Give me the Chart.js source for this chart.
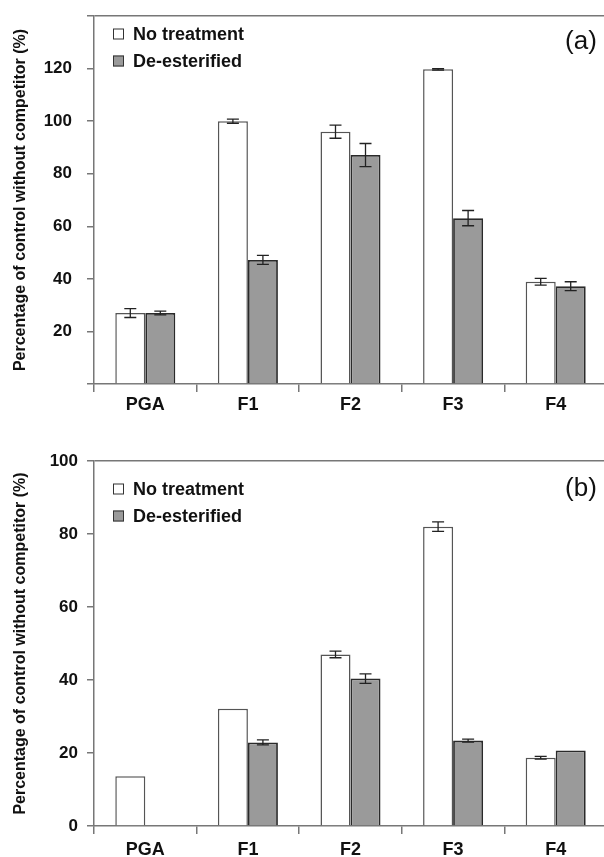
<!DOCTYPE html>
<html>
<head>
<meta charset="utf-8">
<script src="https://cdn.jsdelivr.net/npm/chart.js@4.4.1/dist/chart.umd.min.js"></script>
<style>
  html, body { margin: 0; padding: 0; background: #fff; overflow: hidden; }
  body { width: 604px; height: 857px; position: relative; }
  .panel { position: absolute; left: 0; width: 607px; }
  #panelA { top: 0; height: 420px; }
  #panelB { top: 440px; height: 417px; }
</style>
</head>
<body>
<div class="panel" id="panelA"><canvas id="chartA"></canvas></div>
<div class="panel" id="panelB"><canvas id="chartB"></canvas></div>
<script>
// ---------- values ----------
let categories = ['PGA', 'F1', 'F2', 'F3', 'F4']
let seriesNames = ['No treatment', 'De-esterified']
let yTitle = 'Percentage of control without competitor (%)'

// panel (a)
let a_noTreatment = [27.0, 100.0, 96.0, 119.7, 38.9]
let a_noTreatmentErr = [1.7, 0.8, 2.5, 0.3, 1.3]
let a_deEsterified = [27.0, 47.2, 87.1, 63.1, 37.2]
let a_deEsterifiedErr = [0.7, 1.7, 4.4, 2.9, 1.7]
let a_yLabels = [20, 40, 60, 80, 100, 120]   // axis runs 0..140

// panel (b)
let b_noTreatment = [13.6, 32.1, 47.0, 82.0, 18.7]
let b_noTreatmentErr = [0, 0, 0.9, 1.3, 0.4]
let b_deEsterified = [null, 22.9, 40.4, 23.4, 20.7]
let b_deEsterifiedErr = [0, 0.7, 1.3, 0.4, 0]
let b_yLabels = [0, 20, 40, 60, 80, 100]     // axis runs 0..100

const FONT = "'Liberation Sans', Arial, Helvetica, sans-serif"
const INK = '#111'
const AXIS = '#777'

// ---------- plugins ----------

// error bars, drawn from each dataset's "errors" array through the y scale
const errorBars = {
  id: 'errorBars',
  afterDatasetsDraw(chart) {
    const ctx = chart.ctx
    const y = chart.scales.y
    chart.data.datasets.forEach((ds, i) => {
      const meta = chart.getDatasetMeta(i)
      meta.data.forEach((bar, j) => {
        let v = ds.data[j], e = ds.errors[j]
        if (v == null || !e) return
        let top = y.getPixelForValue(v + e)
        let bot = y.getPixelForValue(v - e)
        ctx.save()
        ctx.strokeStyle = '#222'
        ctx.lineWidth = 1.3
        ctx.beginPath()
        ctx.moveTo(bar.x, top); ctx.lineTo(bar.x, bot)
        ctx.moveTo(bar.x - 6, top); ctx.lineTo(bar.x + 6, top)
        ctx.moveTo(bar.x - 6, bot); ctx.lineTo(bar.x + 6, bot)
        ctx.stroke()
        ctx.restore()
      })
    })
  }
}

// legend sitting inside the plot, top-left
const insideLegend = {
  id: 'insideLegend',
  afterDraw(chart, args, opts) {
    const ctx = chart.ctx
    ctx.save()
    chart.data.datasets.forEach((ds, i) => {
      let cy = opts.y + i * opts.step
      ctx.fillStyle = ds.backgroundColor
      ctx.fillRect(opts.x, cy - 5.5, 11, 11)
      ctx.strokeStyle = '#333'
      ctx.lineWidth = 1
      ctx.strokeRect(opts.x + 0.5, cy - 5, 10, 10)
      ctx.fillStyle = INK
      ctx.font = 'bold 18px ' + FONT
      ctx.textAlign = 'left'
      ctx.textBaseline = 'middle'
      ctx.fillText(ds.label, opts.x + 20, cy + 1)
    })
    ctx.restore()
  }
}

// panel tag, "(a)" / "(b)"
const panelTag = {
  id: 'panelTag',
  afterDraw(chart, args, opts) {
    const ctx = chart.ctx
    ctx.save()
    ctx.fillStyle = INK
    ctx.font = '26px ' + FONT
    ctx.textAlign = 'center'
    ctx.textBaseline = 'middle'
    ctx.fillText(opts.text, opts.x, opts.y)
    ctx.restore()
  }
}

// ---------- build one panel ----------
function makePanel(id, noT, noTErr, deE, deEErr, yMax, yLabels, lay) {
  return new Chart(document.getElementById(id), {
    type: 'bar',
    data: {
      labels: categories,
      datasets: [{
        label: seriesNames[0],
        data: noT,
        errors: noTErr,
        backgroundColor: '#ffffff',
        borderColor: '#555',
        borderWidth: 1.5
      }, {
        label: seriesNames[1],
        data: deE,
        errors: deEErr,
        backgroundColor: '#9a9a9a',
        borderColor: '#2a2a2a',
        borderWidth: 1.8
      }]
    },
    options: {
      responsive: true,
      maintainAspectRatio: false,
      animation: false,
      layout: { padding: { top: lay.top, left: 0, right: 0, bottom: 0 } },
      datasets: { bar: { categoryPercentage: 0.585, barPercentage: 1.0 } },
      scales: {
        x: {
          afterFit: s => { s.height = lay.xHeight; s.paddingLeft = 0; s.paddingRight = 0 },
          grid: { offset: true, drawOnChartArea: false, tickLength: 8, color: AXIS, lineWidth: 1.5 },
          border: { color: AXIS, width: 1.5 },
          ticks: { color: INK, padding: lay.xPad, font: { family: FONT, size: 18, weight: 'bold' } }
        },
        y: {
          min: 0,
          max: yMax,
          afterFit: s => { s.width = 94; s.paddingTop = 0; s.paddingBottom = 0 },
          grid: {
            drawOnChartArea: true,
            color: c => (c.tick && c.tick.value === yMax) ? AXIS : 'rgba(0,0,0,0)',
            tickColor: AXIS,
            tickLength: 7,
            lineWidth: 1.5
          },
          border: { color: AXIS, width: 1.5 },
          ticks: {
            stepSize: 20,
            color: INK,
            padding: lay.yPad,
            font: { family: FONT, size: 17, weight: 'bold' },
            callback: v => yLabels.includes(v) ? v : ''
          },
          title: {
            display: true,
            text: yTitle,
            color: INK,
            padding: { top: 11, bottom: 0 },
            font: { family: FONT, size: 16, weight: 'bold' }
          }
        }
      },
      plugins: {
        legend: { display: false },
        tooltip: { enabled: false },
        insideLegend: { x: 113, y: lay.legendY, step: 27 },
        panelTag: { text: lay.tag, x: 581, y: lay.tagY }
      }
    },
    plugins: [errorBars, insideLegend, panelTag]
  })
}

makePanel('chartA', a_noTreatment, a_noTreatmentErr, a_deEsterified, a_deEsterifiedErr, 140, a_yLabels,
  { top: 16, xHeight: 36, xPad: 2, yPad: 15, legendY: 34, tag: '(a)', tagY: 42 })

makePanel('chartB', b_noTreatment, b_noTreatmentErr, b_deEsterified, b_deEsterifiedErr, 100, b_yLabels,
  { top: 21, xHeight: 31, xPad: 5, yPad: 9, legendY: 49, tag: '(b)', tagY: 49 })
</script>
</body>
</html>
